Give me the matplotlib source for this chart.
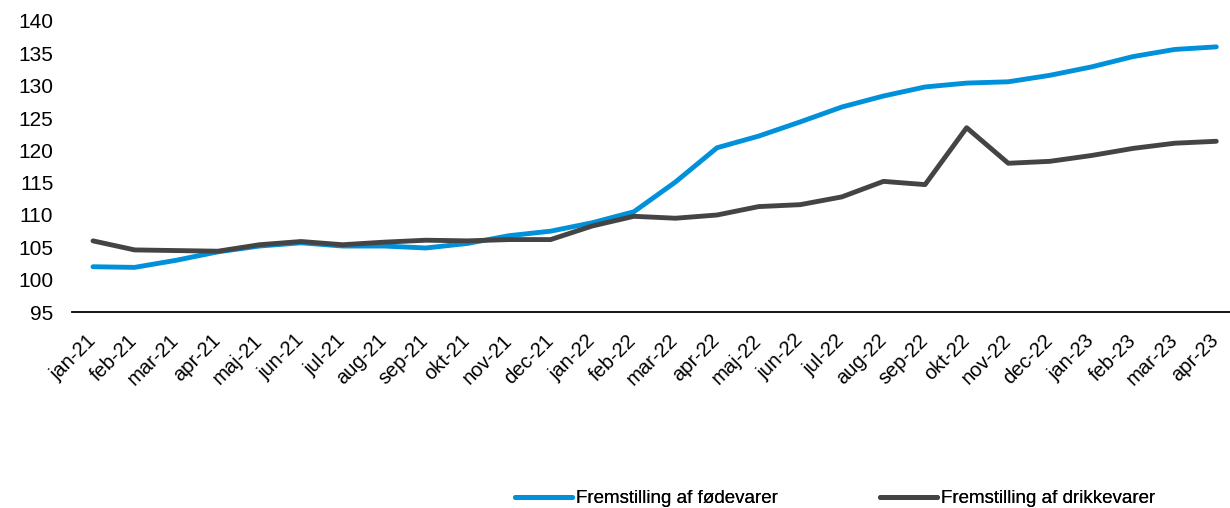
import matplotlib
matplotlib.use("Agg")
import matplotlib.pyplot as plt
import matplotlib.transforms as mtransforms

months = ["jan-21", "feb-21", "mar-21", "apr-21", "maj-21", "jun-21", "jul-21", "aug-21",
          "sep-21", "okt-21", "nov-21", "dec-21", "jan-22", "feb-22", "mar-22", "apr-22",
          "maj-22", "jun-22", "jul-22", "aug-22", "sep-22", "okt-22", "nov-22", "dec-22",
          "jan-23", "feb-23", "mar-23", "apr-23"]

foed = [102.0, 101.9, 103.0, 104.3, 105.2, 105.7, 105.2, 105.2,
        104.9, 105.6, 106.8, 107.5, 108.8, 110.5, 115.1, 120.4,
        122.2, 124.4, 126.7, 128.4, 129.8, 130.4, 130.6, 131.6,
        132.9, 134.5, 135.6, 136.0]

drikke = [106.0, 104.6, 104.5, 104.4, 105.4, 105.9, 105.4, 105.8,
          106.1, 106.0, 106.2, 106.2, 108.3, 109.8, 109.5, 110.0,
          111.3, 111.6, 112.8, 115.2, 114.7, 123.5, 118.0, 118.3,
          119.2, 120.3, 121.1, 121.4]

yticks = [95, 100, 105, 110, 115, 120, 125, 130, 135, 140]

plt.rcParams['font.family'] = ['Liberation Sans', 'DejaVu Sans']

W, H = 1230, 508
fig = plt.figure(figsize=(W / 100, H / 100), dpi=100)
ax = fig.add_axes([72 / W, (H - 312) / H, (W - 72) / W, (312 - 21) / H])

x = list(range(len(months)))
l1, = ax.plot(x, foed, color="#0091DA", lw=3.5, solid_capstyle="round", solid_joinstyle="round",
              label="Fremstilling af fødevarer")
l2, = ax.plot(x, drikke, color="#444444", lw=3.5, solid_capstyle="round", solid_joinstyle="round",
              label="Fremstilling af drikkevarer")

ax.set_xlim(-0.505, 27.33)
ax.set_ylim(95, 140)
ax.set_yticks(yticks)
ax.set_yticklabels([str(v) for v in yticks], fontsize=15)
ax.set_xticks(x)
ax.set_xticklabels(months, rotation=45, ha="right", va="top", rotation_mode="anchor", fontsize=14.5)
ax.tick_params(axis="both", length=0)
ax.tick_params(axis="y", pad=13.5)
ax.tick_params(axis="x", pad=12)
offset = mtransforms.ScaledTranslation(-7 / 100, -2 / 100, fig.dpi_scale_trans)
for lab in ax.get_xticklabels():
    lab.set_transform(lab.get_transform() + offset)

for s in ["top", "right", "left"]:
    ax.spines[s].set_visible(False)
ax.spines["bottom"].set_color("#000000")
ax.spines["bottom"].set_linewidth(1.3)

for handle, x0 in [(l1, 515), (l2, 880)]:
    leg = fig.legend(handles=[handle], loc="center left", bbox_to_anchor=(x0 / W, 1 - 498.5 / H),
                     frameon=False, fontsize=13.5, handlelength=3.05, handletextpad=0.18,
                     borderpad=0, borderaxespad=0)
    fig.add_artist(leg)

fig.savefig("out.png", dpi=100)
